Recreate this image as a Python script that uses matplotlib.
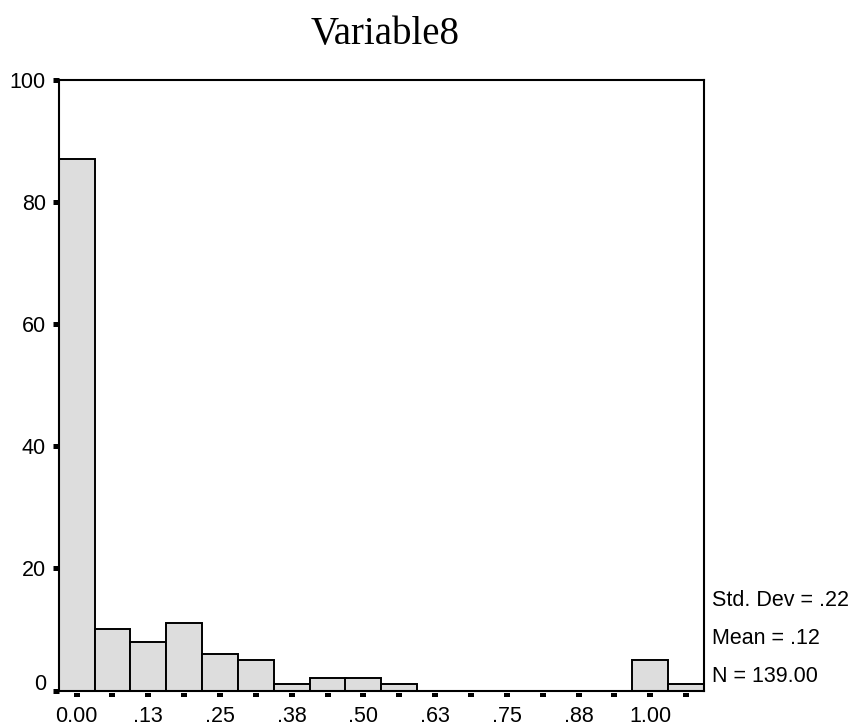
import numpy as np
import matplotlib
matplotlib.use("Agg")
import matplotlib.pyplot as plt
from matplotlib.path import Path
from matplotlib.transforms import ScaledTranslation

# Histogram of Variable8 (bin width 0.0625, first bin centred on 0)
bin_width = 0.0625
counts = [87, 10, 8, 11, 6, 5, 1, 2, 2, 1, 0, 0, 0, 0, 0, 0, 5, 1]
x_tick_labels = ["0.00", ".13", ".25", ".38", ".50", ".63", ".75", ".88", "1.00"]
y_ticks = [0, 20, 40, 60, 80, 100]
stats_lines = ["Std. Dev = .22", "Mean = .12", "N = 139.00"]
title = "Variable8"

W, H, DPI = 851, 726, 100
fig = plt.figure(figsize=(W / DPI, H / DPI), dpi=DPI)
fig.patch.set_facecolor("white")

left, right, top, bottom = 58.7, 704.0, 80.0, 690.5
ax = fig.add_axes([left / W, 1 - bottom / H, (right - left) / W, (bottom - top) / H])

centers = np.arange(len(counts)) * bin_width
ax.bar(centers, counts, width=bin_width, color="#dddddd", edgecolor="black",
       linewidth=1.4, zorder=2)

ax.set_xlim(centers[0] - bin_width / 2, centers[-1] + bin_width / 2)
ax.set_ylim(0, 100)

for s in ax.spines.values():
    s.set_linewidth(1.5)
    s.set_color("black")
    s.set_zorder(3)

px = 72 / DPI
sans = "Liberation Sans"

# x axis: labels on every other bin; small block marks under every bin centre
labels = []
for i in range(len(centers)):
    labels.append(x_tick_labels[i // 2] if i % 2 == 0 and i // 2 < len(x_tick_labels) else "")
ax.set_xticks(centers)
ax.set_xticklabels(labels, fontsize=15.5, family=sans)
ax.tick_params(axis="x", length=0, pad=10.8)

block = Path([(-3, -1.75), (3, -1.75), (3, 1.75), (-3, 1.75), (-3, -1.75)],
             [Path.MOVETO, Path.LINETO, Path.LINETO, Path.LINETO, Path.CLOSEPOLY])
mark_tr = ax.get_xaxis_transform() + ScaledTranslation(0, -4.5 / DPI, fig.dpi_scale_trans)
ax.plot(centers, np.zeros_like(centers), linestyle="none", marker=block,
        markersize=6 * px, color="black", markeredgewidth=0,
        transform=mark_tr, clip_on=False, zorder=4)

ax.set_yticks(y_ticks)
ax.set_yticklabels([str(v) for v in y_ticks], fontsize=15.5, family=sans)
ax.tick_params(axis="y", direction="out", length=6 * px, width=5 * px,
               pad=5, color="black")

# lift the 0 label clear of the x labels
lab0 = ax.get_yticklabels()[0]
lab0.set_transform(lab0.get_transform() + ScaledTranslation(0, 8 / DPI, fig.dpi_scale_trans))

fig.text(385 / W, 1 - 44 / H, title, ha="center", va="baseline",
         family="Liberation Serif", fontsize=28)

for line, yb in zip(stats_lines, [606, 644, 682]):
    fig.text(712 / W, 1 - yb / H, line, ha="left", va="baseline",
             family=sans, fontsize=15.5)

fig.savefig("out.png", dpi=DPI)
